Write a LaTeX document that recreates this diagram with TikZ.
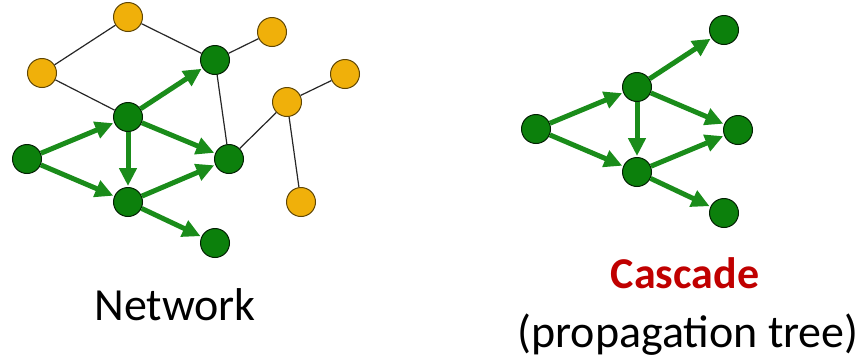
\documentclass[tikz,border=0pt]{standalone}
\usepackage{fontspec}
\setmainfont{Carlito}
\usetikzlibrary{arrows.meta}

\definecolor{infgreen}{RGB}{12,128,12}
\definecolor{arrowgreen}{RGB}{26,140,26}
\definecolor{idleorange}{RGB}{240,176,10}
\definecolor{titlered}{RGB}{192,0,0}

\begin{document}
\begin{tikzpicture}[x=1pt,y=-1pt,
    infected/.style={circle, draw=black!75!infgreen, line width=1pt, fill=infgreen, minimum size=29pt, inner sep=0pt},
    idle/.style={circle, draw=black!60!idleorange, line width=1pt, fill=idleorange, minimum size=29pt, inner sep=0pt},
    link/.style={draw=black!85, line width=1.2pt},
    spread/.style={draw=arrowgreen, line width=5pt, -{Triangle[length=18pt,width=17pt]}, shorten >=1pt}]
    \useasboundingbox (0,0) rectangle (865,360);

    % Network: nodes that never got infected
    \foreach \name/\x/\y in {u1/128/17, u2/272/32, u3/42/73, u4/345/74, u5/287/102, u6/301/202} {
        \node[idle] (\name) at (\x,\y) {};
    }

    % Network: infected nodes
    \foreach \name/\x/\y in {a/27/159, b/128/117, c/215/60, d/229/159, e/128/202, f/215/243} {
        \node[infected] (\name) at (\x,\y) {};
    }

    % Plain edges
    \foreach \s/\t in {u3/u1, u1/c, c/u2, u3/b, c/d, d/u5, u5/u4, u5/u6} {
        \draw[link] (\s) -- (\t);
    }

    % Edges the infection went along
    \foreach \s/\t in {a/b, a/e, b/c, b/d, b/e, e/d, e/f} {
        \draw[spread] (\s) -- (\t);
    }

    % Cascade tree
    \foreach \name/\x/\y in {ca/536/129, cb/637/87, cc/724/30, cd/738/130, ce/637/172, cf/724/213} {
        \node[infected] (\name) at (\x,\y) {};
    }
    \foreach \s/\t in {ca/cb, ca/ce, cb/cc, cb/cd, cb/ce, ce/cd, ce/cf} {
        \draw[spread] (\s) -- (\t);
    }

    % Captions
    \node[anchor=base] (netlabel) at (175,320) {\fontsize{46}{50}\selectfont Network};
    \node[anchor=base, text=titlered] (caslabel) at (685,288) {\fontsize{44}{50}\selectfont\bfseries Cascade};
    \node[anchor=base] (treelabel) at (688,347) {\fontsize{46}{50}\selectfont (propagation tree)};
\end{tikzpicture}
\end{document}
